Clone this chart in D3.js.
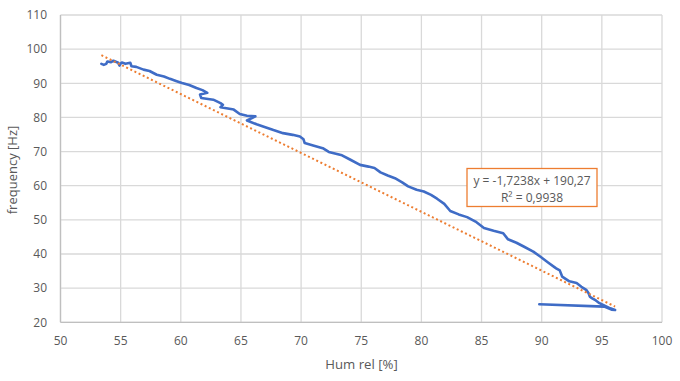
<!DOCTYPE html>
<html><head><meta charset="utf-8">
<script src="https://cdn.jsdelivr.net/npm/d3@7"></script>
<style>body{margin:0;background:#fff}svg{display:block}text{font-family:"Open Sans",sans-serif}</style>
</head><body><svg id="c" width="680" height="381"></svg>
<script>
const hum = [53.4,53.6,53.8,53.9,54.2,54.4,54.6,54.8,54.9,55.0,55.1,55.4,55.8,55.9,56.3,56.9,57.4,58.0,58.6,59.1,59.6,60.1,60.7,61.3,61.8,62.2,61.6,61.7,62.7,63.3,63.5,63.3,64.4,64.9,65.5,66.2,65.5,66.3,66.9,67.7,68.5,69.3,69.9,70.2,70.3,71.0,71.8,72.3,73.4,74.1,74.9,75.6,76.1,76.6,77.2,77.8,78.4,78.9,79.6,80.2,80.8,81.3,81.9,82.4,83.1,83.8,84.5,85.2,86.0,86.8,87.2,87.9,88.5,89.3,89.9,90.5,91.2,91.5,91.7,92.3,92.9,93.3,93.7,93.9,94.0,94.2,94.5,94.8,95.1,95.7,96.1,95.8,95.2,89.8];
const freq = [95.7,95.4,95.7,96.4,96.2,96.6,96.3,96.0,95.2,95.8,96.1,95.7,96.0,95.0,94.8,94.0,93.6,92.5,92.0,91.3,90.7,90.1,89.5,88.6,88.0,87.2,86.7,85.7,85.2,84.2,83.7,83.0,82.3,81.0,80.5,80.3,79.1,78.0,77.3,76.3,75.4,74.9,74.4,73.6,72.5,71.8,71.0,69.9,68.9,67.6,66.1,65.6,65.2,63.9,63.0,62.2,61.0,59.8,58.8,58.3,57.3,56.2,54.7,52.6,51.6,50.8,49.5,47.6,46.8,46.1,44.3,43.3,42.2,40.7,39.2,37.6,35.8,35.2,33.4,32.0,31.5,30.4,29.5,28.5,27.5,27.0,26.4,25.6,25.1,24.1,23.6,23.7,24.6,25.3];
const xTicks = [50,55,60,65,70,75,80,85,90,95,100];
const yTicks = [20,30,40,50,60,70,80,90,100,110];
const slope = -1.7238, intercept = 190.27;
const trendRange = [53.4, 96.1];
const eqLines = ["y = -1,7238x + 190,27", "R² = 0,9938"];
const xTitle = "Hum rel [%]", yTitle = "frequency [Hz]";

const svg = d3.select("#c");
const x = d3.scaleLinear().domain([50,100]).range([60.5,662]);
const y = d3.scaleLinear().domain([20,110]).range([322.3,15]);
const col = "#595959";

// gridlines
svg.append("g").selectAll("line.v").data(xTicks).join("line")
  .attr("x1",d=>x(d)).attr("x2",d=>x(d)).attr("y1",y(20)).attr("y2",y(110))
  .attr("stroke","#d9d9d9").attr("stroke-width",1.3);
svg.append("g").selectAll("line.h").data(yTicks).join("line")
  .attr("x1",x(50)).attr("x2",x(100)).attr("y1",d=>y(d)).attr("y2",d=>y(d))
  .attr("stroke","#d9d9d9").attr("stroke-width",1.3);
// axis lines
svg.append("line").attr("x1",x(50)).attr("x2",x(100)).attr("y1",y(20)).attr("y2",y(20)).attr("stroke","#bfbfbf").attr("stroke-width",1.3);
svg.append("line").attr("x1",x(50)).attr("x2",x(50)).attr("y1",y(20)).attr("y2",y(110)).attr("stroke","#bfbfbf").attr("stroke-width",1.3);

// tick labels
svg.append("g").selectAll("text").data(xTicks).join("text")
  .attr("x",d=>x(d)).attr("y",345).attr("text-anchor","middle")
  .attr("font-size",12).attr("fill",col).text(d=>d);
svg.append("g").selectAll("text").data(yTicks).join("text")
  .attr("x",47).attr("y",d=>y(d)+4.3).attr("text-anchor","end")
  .attr("font-size",12).attr("fill",col).text(d=>d);

// axis titles
svg.append("text").attr("x",361.5).attr("y",368.5).attr("text-anchor","middle")
  .attr("font-size",13.2).attr("fill",col).text(xTitle);
svg.append("text").attr("transform","translate(17,170) rotate(-90)").attr("text-anchor","middle")
  .attr("font-size",13).attr("fill",col).text(yTitle);

// data line
const pts = hum.map((h,i)=>[h,freq[i]]);
svg.append("path").datum(pts)
  .attr("d", d3.line().x(d=>x(d[0])).y(d=>y(d[1])).curve(d3.curveLinear))
  .attr("fill","none").attr("stroke","#3f6cc6").attr("stroke-width",2.6)
  .attr("stroke-linejoin","round").attr("stroke-linecap","round");

// trendline
svg.append("line")
  .attr("x1",x(trendRange[0])).attr("y1",y(slope*trendRange[0]+intercept))
  .attr("x2",x(trendRange[1])).attr("y2",y(slope*trendRange[1]+intercept))
  .attr("stroke","#ED7D31").attr("stroke-width",2).attr("stroke-dasharray","2,2.6");

// equation box
svg.append("rect").attr("x",467).attr("y",168.5).attr("width",130).attr("height",38)
  .attr("fill","#fff").attr("stroke","#ED7D31").attr("stroke-width",1.3);
svg.append("g").selectAll("text").data(eqLines).join("text")
  .attr("x",532).attr("y",(d,i)=>184.5+i*17).attr("text-anchor","middle")
  .attr("font-size",12).attr("fill",col).text(d=>d);
</script></body></html>
